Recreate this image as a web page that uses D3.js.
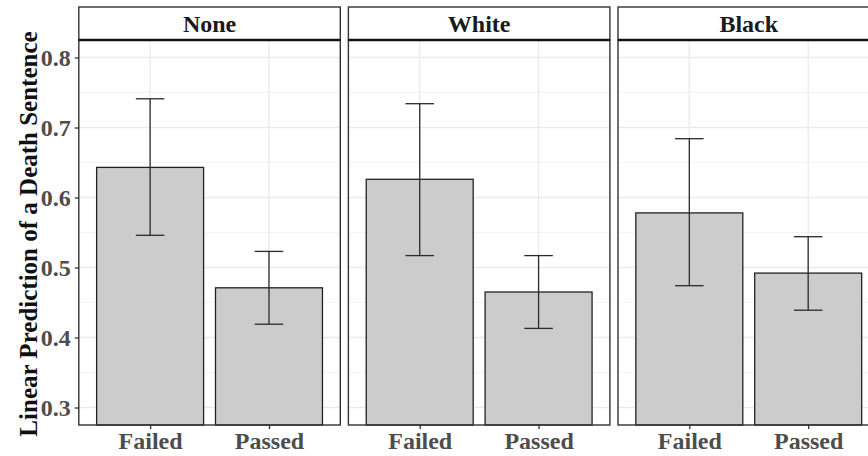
<!DOCTYPE html>
<html>
<head>
<meta charset="utf-8">
<script src="https://cdn.jsdelivr.net/npm/d3@7"></script>
<style>
  html, body { margin: 0; padding: 0; background: #fff; }
  svg { display: block; font-family: "Liberation Serif", "Times New Roman", serif; font-weight: bold; }
</style>
</head>
<body>
<svg id="chart" width="868" height="456"></svg>
<script>
// Facets (stimulus race) and x categories
const facets = ["None", "White", "Black"];
const categories = ["Failed", "Passed"];

// Predicted probability of a death sentence, per facet, per category
const estimate = [
  [0.643, 0.471],
  [0.626, 0.465],
  [0.578, 0.492]
];
// 95% confidence bounds
const lower = [
  [0.546, 0.419],
  [0.517, 0.413],
  [0.474, 0.439]
];
const upper = [
  [0.741, 0.523],
  [0.734, 0.517],
  [0.684, 0.544]
];

const yTicks = [0.3, 0.4, 0.5, 0.6, 0.7, 0.8];
const yMinor = [0.35, 0.45, 0.55, 0.65, 0.75];
const yTitle = "Linear Prediction of a Death Sentence";

const svg = d3.select("#chart");

const panelTop = 40, panelBottom = 425;
const stripTop = 7;
const panelLeft0 = 78.8, panelStep = 269.6, panelWidth = 261.5;

const y = d3.scaleLinear().domain([0.275, 0.825]).range([panelBottom, panelTop]);
const x = d3.scalePoint().domain(categories).range([0, panelWidth]).padding(0.6);
const step = x.step();
const barW = step * 0.9;
const capW = step * 0.24;

facets.forEach((facet, fi) => {
  const g = svg.append("g").attr("transform", `translate(${panelLeft0 + fi * panelStep},0)`);

  // minor grid
  g.selectAll("line.minor").data(yMinor).join("line")
    .attr("x1", 0).attr("x2", panelWidth)
    .attr("y1", d => y(d)).attr("y2", d => y(d))
    .attr("stroke", "#f4f4f4").attr("stroke-width", 1);
  // major grid
  g.selectAll("line.major").data(yTicks).join("line")
    .attr("x1", 0).attr("x2", panelWidth)
    .attr("y1", d => y(d)).attr("y2", d => y(d))
    .attr("stroke", "#ebebeb").attr("stroke-width", 1.4);
  g.selectAll("line.vmajor").data(categories).join("line")
    .attr("x1", d => x(d)).attr("x2", d => x(d))
    .attr("y1", panelTop).attr("y2", panelBottom)
    .attr("stroke", "#ebebeb").attr("stroke-width", 1.4);

  // bars
  g.selectAll("rect.bar").data(categories).join("rect")
    .attr("x", d => x(d) - barW / 2)
    .attr("width", barW)
    .attr("y", (d, i) => y(estimate[fi][i]))
    .attr("height", (d, i) => panelBottom - y(estimate[fi][i]))
    .attr("fill", "#cccccc")
    .attr("stroke", "#222")
    .attr("stroke-width", 1.3);

  // error bars
  categories.forEach((c, i) => {
    const cx = x(c);
    const eb = g.append("g").attr("stroke", "#2a2a2a").attr("stroke-width", 1.3).attr("fill", "none");
    eb.append("line").attr("x1", cx).attr("x2", cx)
      .attr("y1", y(lower[fi][i])).attr("y2", y(upper[fi][i]));
    eb.append("line").attr("x1", cx - capW / 2).attr("x2", cx + capW / 2)
      .attr("y1", y(upper[fi][i])).attr("y2", y(upper[fi][i]));
    eb.append("line").attr("x1", cx - capW / 2).attr("x2", cx + capW / 2)
      .attr("y1", y(lower[fi][i])).attr("y2", y(lower[fi][i]));
  });

  // panel border
  g.append("rect")
    .attr("x", 0).attr("y", panelTop).attr("width", panelWidth).attr("height", panelBottom - panelTop)
    .attr("fill", "none").attr("stroke", "#333").attr("stroke-width", 1.4);

  // strip
  g.append("rect")
    .attr("x", 0).attr("y", stripTop).attr("width", panelWidth).attr("height", panelTop - stripTop)
    .attr("fill", "#fff").attr("stroke", "#333").attr("stroke-width", 1.4);
  g.append("line")
    .attr("x1", 0).attr("x2", panelWidth).attr("y1", panelTop).attr("y2", panelTop)
    .attr("stroke", "#111").attr("stroke-width", 2.4);
  g.append("text")
    .attr("x", panelWidth / 2).attr("y", 32)
    .attr("text-anchor", "middle")
    .attr("font-size", 24)
    .attr("fill", "#1a1a1a")
    .text(facet);

  // x axis
  const xa = g.append("g").attr("transform", `translate(0,${panelBottom})`)
    .call(d3.axisBottom(x).tickSize(4).tickPadding(4));
  xa.select(".domain").remove();
  xa.selectAll(".tick line").attr("stroke", "#333").attr("stroke-width", 1.3);
  xa.selectAll(".tick text")
    .attr("font-family", "Liberation Serif, serif")
    .attr("font-weight", "bold")
    .attr("font-size", 24)
    .attr("fill", "#4d4d4d")
    .attr("y", 24)
    .attr("dy", null);

  if (fi === 0) {
    const ya = g.append("g")
      .call(d3.axisLeft(y).tickValues(yTicks).tickFormat(d3.format(".1f")).tickSize(4).tickPadding(4));
    ya.select(".domain").remove();
    ya.selectAll(".tick line").attr("stroke", "#333").attr("stroke-width", 1.3);
    ya.selectAll(".tick text")
      .attr("font-family", "Liberation Serif, serif")
      .attr("font-weight", "bold")
      .attr("font-size", 24)
      .attr("fill", "#4d4d4d");
  }
});

// y axis title
svg.append("text")
  .attr("transform", `translate(36.5,${(panelTop + panelBottom) / 2 + 1.5}) rotate(-90)`)
  .attr("text-anchor", "middle")
  .attr("font-size", 25)
  .attr("fill", "#111")
  .text(yTitle);
</script>
</body>
</html>
